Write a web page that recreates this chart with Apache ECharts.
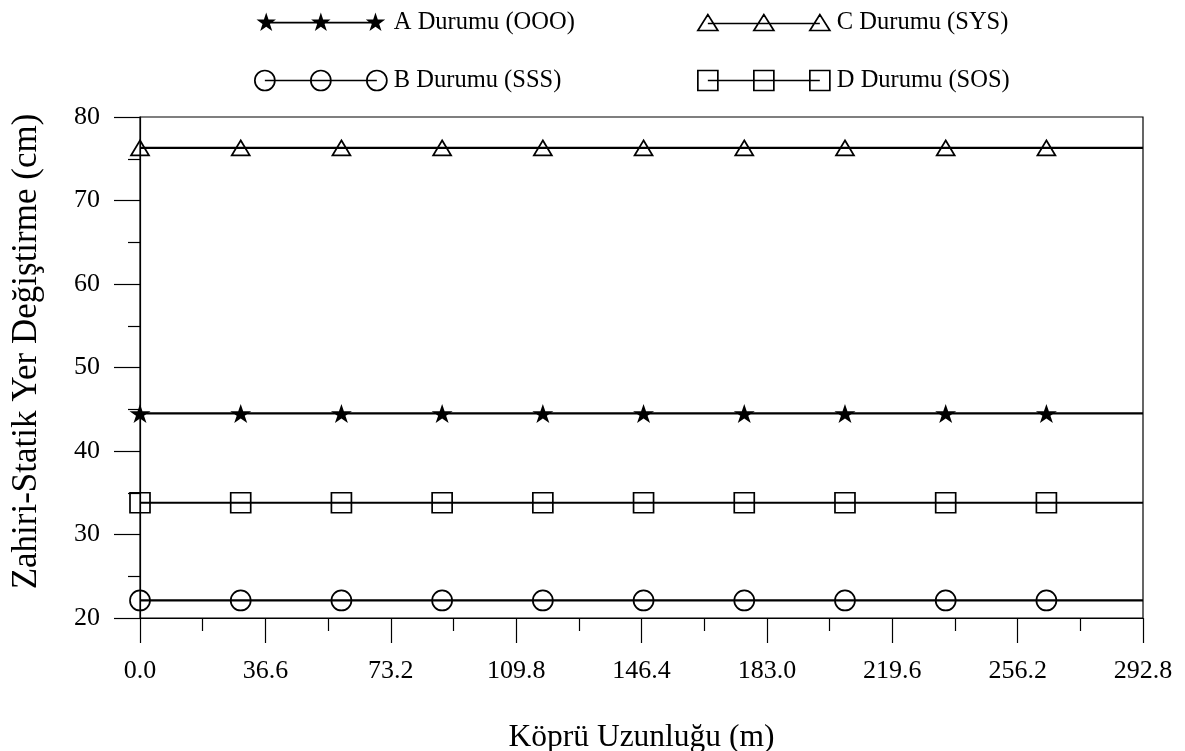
<!DOCTYPE html>
<html><head><meta charset="utf-8">
<script src="https://cdn.jsdelivr.net/npm/echarts@6/dist/echarts.min.js"></script>
<style>html,body{margin:0;padding:0;background:#fff}#c{width:1185px;height:751px}</style>
</head><body><div id="c"></div>
<script>
// ---- data ----
const xPositions = [0, 29.4, 58.8, 88.2, 117.6, 147.0, 176.4, 205.8, 235.2, 264.6, 292.8];
const seriesA = [44.5, 44.5, 44.5, 44.5, 44.5, 44.5, 44.5, 44.5, 44.5, 44.5, 44.5];
const seriesB = [22.1, 22.1, 22.1, 22.1, 22.1, 22.1, 22.1, 22.1, 22.1, 22.1, 22.1];
const seriesC = [76.3, 76.3, 76.3, 76.3, 76.3, 76.3, 76.3, 76.3, 76.3, 76.3, 76.3];
const seriesD = [33.8, 33.8, 33.8, 33.8, 33.8, 33.8, 33.8, 33.8, 33.8, 33.8, 33.8];
const seriesNames = ['A Durumu (OOO)', 'B Durumu (SSS)', 'C Durumu (SYS)', 'D Durumu (SOS)'];
const xAxisRange = [0, 292.8];
const xTickStep = 36.6;
const yAxisRange = [20, 80];
const yTickStep = 10;
const xTitle = 'Köprü Uzunluğu (m)';
const yTitle = 'Zahiri-Statik Yer Değiştirme (cm)';

// ---- styling helpers ----
const FONT = '"Liberation Serif", "Times New Roman", serif';
function starPts(cx, cy, r) {
  const ri = r * 0.382;
  let s = '';
  for (let i = 0; i < 10; i++) {
    const a = (-90 + i * 36) * Math.PI / 180;
    const rr = i % 2 === 0 ? r : ri;
    s += (i === 0 ? 'M' : 'L') + (cx + rr * Math.cos(a)).toFixed(3) + ' ' + (cy + rr * Math.sin(a)).toFixed(3) + ' ';
  }
  return s + 'Z ';
}
const centers = [10, 66, 122];
const starSymbol = 'path://' + starPts(10, 10, 10);
const iconStar = 'path://M0 0 M132 20 M10 9.1 L122 9.1 L122 10.9 L10 10.9 Z ' + centers.map(c => starPts(c, 10, 10.5)).join('');
const iconCircle = 'path://M0 0 M132 20 M10 10 L122 10 ' + centers.map(c => `M${c + 10} 10 A10 10 0 1 1 ${c - 10} 10 A10 10 0 1 1 ${c + 10} 10 `).join('');
const iconTri = 'path://M0 0 M132 20 M10 11 L122 11 ' + centers.map(c => `M${c - 10} 18 L${c} 2 L${c + 10} 18 Z `).join('');
const iconRect = 'path://M0 0 M132 20 M10 10 L122 10 ' + centers.map(c => `M${c - 10} 0 L${c + 10} 0 L${c + 10} 20 L${c - 10} 20 Z `).join('');

function toData(ys) {
  return xPositions.map((x, i) => i === xPositions.length - 1 ? { value: [x, ys[i]], symbol: 'none' } : [x, ys[i]]);
}
const hollow = { color: 'transparent', borderColor: '#000', borderWidth: 1.7 };
const lineSt = { color: '#000', width: 2.2 };
const axisLineSt = { color: '#000', width: 1.2 };
const legendText = { fontFamily: FONT, fontSize: 24.5, color: '#000', padding: [0, 0, 5, 2] };

const chart = echarts.init(document.getElementById('c'));
chart.setOption({
  animation: false,
  backgroundColor: '#fff',
  textStyle: { fontFamily: FONT, color: '#000' },
  grid: { left: 140, right: 42, top: 117, bottom: 133, show: true, borderColor: '#000', borderWidth: 1.2,
    backgroundColor: 'transparent', containLabel: false, outerBoundsMode: 'none' },
  legend: [
    {
      orient: 'vertical', left: 254, top: 10, padding: 0, itemWidth: 132, itemHeight: 20, itemGap: 33,
      selectedMode: false, textStyle: legendText,
      data: [
        { name: seriesNames[0], icon: iconStar, itemStyle: { color: '#000', borderWidth: 0 } },
        { name: seriesNames[1], icon: iconCircle, itemStyle: hollow }
      ]
    },
    {
      orient: 'vertical', left: 697, top: 10, padding: 0, itemWidth: 132, itemHeight: 20, itemGap: 33,
      selectedMode: false, textStyle: legendText,
      data: [
        { name: seriesNames[2], icon: iconTri, itemStyle: hollow },
        { name: seriesNames[3], icon: iconRect, itemStyle: hollow }
      ]
    }
  ],
  xAxis: {
    type: 'value', min: xAxisRange[0], max: xAxisRange[1], interval: xTickStep,
    axisLine: { lineStyle: axisLineSt },
    axisTick: { length: 25, lineStyle: axisLineSt },
    minorTick: { show: true, splitNumber: 2, length: 13, lineStyle: axisLineSt },
    splitLine: { show: false }, minorSplitLine: { show: false },
    axisLabel: { fontFamily: FONT, fontSize: 26, color: '#000', margin: 40, formatter: v => v.toFixed(1) },
    name: xTitle, nameLocation: 'middle', nameGap: 104,
    nameTextStyle: { fontFamily: FONT, fontSize: 31.5, color: '#000' }
  },
  yAxis: {
    type: 'value', min: yAxisRange[0], max: yAxisRange[1], interval: yTickStep,
    axisLine: { show: true, lineStyle: axisLineSt },
    axisTick: { show: true, length: 26, lineStyle: axisLineSt },
    minorTick: { show: true, splitNumber: 2, length: 12, lineStyle: axisLineSt },
    splitLine: { show: false }, minorSplitLine: { show: false },
    axisLabel: { fontFamily: FONT, fontSize: 26, color: '#000', margin: 40 },
    name: yTitle, nameLocation: 'middle', nameGap: 96,
    nameTextStyle: { fontFamily: FONT, fontSize: 35, color: '#000', padding: [0, 0, 0, 32] }
  },
  series: [
    { name: seriesNames[0], type: 'line', data: toData(seriesA), symbol: starSymbol, symbolSize: [21, 19],
      itemStyle: { color: '#000', borderWidth: 0 }, lineStyle: lineSt, showAllSymbol: true },
    { name: seriesNames[1], type: 'line', data: toData(seriesB), symbol: 'circle', symbolSize: 20,
      itemStyle: hollow, lineStyle: lineSt, showAllSymbol: true },
    { name: seriesNames[2], type: 'line', data: toData(seriesC), symbol: 'triangle', symbolSize: [18, 15],
      itemStyle: hollow, lineStyle: lineSt, showAllSymbol: true },
    { name: seriesNames[3], type: 'line', data: toData(seriesD), symbol: 'rect', symbolSize: 20,
      itemStyle: hollow, lineStyle: lineSt, showAllSymbol: true }
  ]
});
</script></body></html>
